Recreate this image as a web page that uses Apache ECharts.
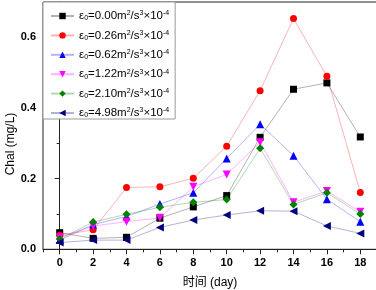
<!DOCTYPE html>
<html><head><meta charset="utf-8">
<script src="https://cdn.jsdelivr.net/npm/echarts@6/dist/echarts.min.js"></script>
<style>html,body{margin:0;padding:0;background:#fff}#c{width:376px;height:290px}</style>
</head><body><div id="c"></div>
<script>
var days = [0, 2, 4, 6, 8, 10, 12, 14, 16, 18];
var epsValues = ['0.00', '0.26', '0.62', '1.22', '2.10', '4.98'];
var s000 = [0.047, 0.031, 0.034, 0.088, 0.120, 0.152, 0.317, 0.453, 0.471, 0.318];
var s026 = [0.040, 0.055, 0.175, 0.177, 0.201, 0.292, 0.449, 0.653, 0.490, 0.161];
var s062 = [0.026, 0.070, 0.093, 0.128, 0.160, 0.257, 0.354, 0.265, 0.142, 0.078];
var s122 = [0.034, 0.066, 0.078, 0.089, 0.177, 0.212, 0.303, 0.133, 0.165, 0.106];
var s210 = [0.029, 0.077, 0.099, 0.119, 0.133, 0.141, 0.286, 0.127, 0.160, 0.100];
var s498 = [0.019, 0.026, 0.026, 0.062, 0.083, 0.097, 0.109, 0.108, 0.066, 0.045];
var xMajor = [0, 2, 4, 6, 8, 10, 12, 14, 16, 18];
var xMinor = [-1, 1, 3, 5, 7, 9, 11, 13, 15, 17, 19];
var yMajor = [0, 0.2, 0.4, 0.6];
var yMinor = [0.1, 0.3, 0.5];
var xTitle = '时间 (day)';
var yTitle = 'Chal (mg/L)';

var allData = [s000, s026, s062, s122, s210, s498];
var colors = ['#000000', '#ff0000', '#0000ff', '#ff00ff', '#008000', '#000080'];
var symbols = ['rect', 'circle', 'triangle', 'triangle', 'diamond', 'triangle'];
var rotates = [0, 0, 0, 180, 0, 90];
var sizes = [7, 7, 8, 8, 8, 8];

function nameOf(v) { return 'ε0=' + v + 'm2/s3×10-4'; }

var series = allData.map(function (arr, i) {
  return {
    name: nameOf(epsValues[i]),
    type: 'line',
    xAxisIndex: 0, yAxisIndex: 0,
    data: days.map(function (d, j) { return [d, arr[j]]; }),
    symbol: symbols[i], symbolSize: sizes[i], symbolRotate: rotates[i],
    showAllSymbol: true,
    itemStyle: { color: colors[i], opacity: 1 },
    lineStyle: { color: colors[i], width: 1, opacity: 0.3 },
    emphasis: { disabled: true },
    animation: false
  };
});

var tickFont = { fontFamily: 'Liberation Sans, Arial, sans-serif', fontSize: 11, fontWeight: 'bold', color: '#000' };

var chart = echarts.init(document.getElementById('c'), null, { renderer: 'canvas' });
chart.setOption({
  animation: false,
  backgroundColor: '#fff',
  grid: { left: 43, top: 2, width: 334, height: 247.3, show: true, borderColor: '#222', borderWidth: 1, backgroundColor: 'transparent', containLabel: false, outerBoundsMode: 'none' },
  graphic: [{
    type: 'text', x: 11, y: 144, rotation: Math.PI / 2,
    style: { text: yTitle, fill: '#000', font: '12px "Liberation Sans", Arial, sans-serif', textAlign: 'center', textVerticalAlign: 'middle' }
  }],
  legend: {
    orient: 'vertical', left: 43, top: 2,
    backgroundColor: '#fff', borderColor: '#999', borderWidth: 1, borderRadius: 0,
    padding: [8, 6, 0, 7],
    itemWidth: 23, itemHeight: 8, itemGap: 7.4,
    textStyle: {
      fontFamily: 'Liberation Sans, Arial, sans-serif', fontSize: 11, color: '#000', lineHeight: 12,
      rich: {
        t: { fontSize: 11.5, lineHeight: 12, fontFamily: 'Liberation Sans, Arial, sans-serif' },
        sub: { fontSize: 7, lineHeight: 7, verticalAlign: 'bottom', fontFamily: 'Liberation Sans, Arial, sans-serif' },
        sup: { fontSize: 7, lineHeight: 7, verticalAlign: 'top', fontFamily: 'Liberation Sans, Arial, sans-serif' }
      }
    },
    formatter: function (name) {
      var v = name.substring(3, 7);
      return '{t|ε}{sub|0}{t|=' + v + 'm}{sup|2}{t|/s}{sup|3}{t|×10}{sup|-4}';
    },
    selectedMode: false
  },
  xAxis: [{
    type: 'value', min: -1, max: 19, position: 'bottom',
    name: xTitle, nameLocation: 'middle', nameGap: 27,
    nameTextStyle: { fontFamily: 'Liberation Sans, Noto Sans CJK SC, sans-serif', fontSize: 12, color: '#000' },
    axisLine: { show: true, lineStyle: { color: '#222', width: 1 } },
    axisTick: { show: true, inside: false, length: 5, customValues: xMajor, lineStyle: { color: '#222' } },
    axisLabel: Object.assign({ margin: 8, customValues: xMajor }, tickFont),
    splitLine: { show: false }
  }, {
    type: 'value', min: -1, max: 19, position: 'bottom', gridIndex: 0,
    axisLine: { show: false },
    axisTick: { show: true, inside: false, length: 3, customValues: xMinor, lineStyle: { color: '#222' } },
    axisLabel: { show: false },
    splitLine: { show: false }
  }],
  yAxis: [{
    type: 'value', min: 0, max: 0.7, position: 'left',
    axisLine: { show: true, lineStyle: { color: '#222', width: 1 } },
    axisTick: { show: true, inside: false, length: 5, customValues: yMajor, lineStyle: { color: '#222' } },
    axisLabel: Object.assign({ margin: 7, customValues: yMajor, formatter: function (v) { return v.toFixed(1); } }, tickFont),
    splitLine: { show: false }
  }, {
    type: 'value', min: 0, max: 0.7, position: 'left', gridIndex: 0,
    axisLine: { show: false },
    axisTick: { show: true, inside: false, length: 3, customValues: yMinor, lineStyle: { color: '#222' } },
    axisLabel: { show: false },
    splitLine: { show: false }
  }],
  series: series
});
</script>
</body></html>
